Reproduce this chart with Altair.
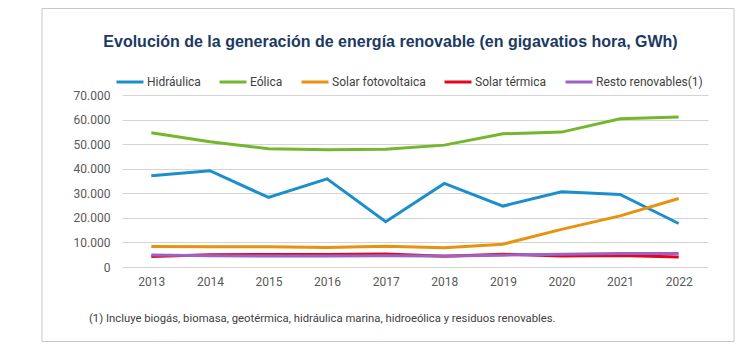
import altair as alt
import pandas as pd

years = ["2013", "2014", "2015", "2016", "2017", "2018", "2019", "2020", "2021", "2022"]
series_names = ["Hidráulica", "Eólica", "Solar fotovoltaica", "Solar térmica", "Resto renovables(1)"]
hidraulica = [37100, 39200, 28300, 35900, 18400, 34000, 24800, 30600, 29500, 17700]
eolica = [54600, 51000, 48100, 47700, 47900, 49600, 54200, 54900, 60300, 61000]
solar_fv = [8300, 8200, 8200, 7900, 8400, 7800, 9300, 15300, 20800, 27900]
solar_termica = [4300, 5000, 5100, 5100, 5300, 4400, 5200, 4500, 4700, 4100]
resto = [4900, 4600, 4500, 4500, 4600, 4500, 4800, 5200, 5500, 5500]
colors = ["#1a8fcb", "#74b72d", "#e8920f", "#e3051b", "#9d62c3"]
y_ticks = [0, 10000, 20000, 30000, 40000, 50000, 60000, 70000]

title_text = "Evolución de la generación de energía renovable (en gigavatios hora, GWh)"
note_text = "(1) Incluye biogás, biomasa, geotérmica, hidráulica marina, hidroeólica y residuos renovables."

rows = []
for name, vals in zip(series_names, [hidraulica, eolica, solar_fv, solar_termica, resto]):
    for i, (yr, v) in enumerate(zip(years, vals)):
        rows.append({"year": yr, "serie": name, "value": v, "order": series_names.index(name)})
df = pd.DataFrame(rows)

W, H = 586, 172

border = alt.Chart(pd.DataFrame({"a": [0]})).mark_rect(
    fill="transparent", stroke="#c8c8c8", strokeWidth=1
).encode(
    x=alt.value(-80), x2=alt.value(612), y=alt.value(-86.5), y2=alt.value(246.5)
)

lines = alt.Chart(df).mark_line(strokeWidth=3).encode(
    x=alt.X("year:O", scale=alt.Scale(type="point", padding=0.5),
            axis=alt.Axis(title=None, domain=False, ticks=False, grid=False,
                          labelAngle=0, labelPadding=9, labelFont="Roboto",
                          labelFontSize=12, labelColor="#595959")),
    y=alt.Y("value:Q", scale=alt.Scale(domain=[0, 70000]),
            axis=alt.Axis(title=None, domain=False, ticks=False, values=y_ticks,
                          labelPadding=12, labelFont="Roboto", labelFontSize=12,
                          labelColor="#595959", gridColor="#d4d4d4", gridWidth=1.2,
                          labelExpr="replace(format(datum.value, ','), /,/g, '.')")),
    color=alt.Color("serie:N", sort=series_names,
                    scale=alt.Scale(domain=series_names, range=colors),
                    legend=alt.Legend(title=None, orient="none", direction="horizontal",
                                      legendX=-7, legendY=-28, symbolType="stroke",
                                      symbolSize=729, symbolStrokeWidth=3,
                                      labelFont="Roboto", labelFontSize=12,
                                      labelColor="#404040", labelOffset=2,
                                      columnPadding=12, padding=0)),
    order="order:Q",
)

title = alt.Chart(pd.DataFrame({"t": [title_text]})).mark_text(
    font="Liberation Sans", fontSize=16, fontWeight="bold", color="#1b3a63",
    align="center", baseline="middle"
).encode(x=alt.value(268.5), y=alt.value(-53), text="t:N")

note = alt.Chart(pd.DataFrame({"t": [note_text]})).mark_text(
    font="Roboto", fontSize=11.3, color="#404040", align="left", baseline="middle"
).encode(x=alt.value(-33), y=alt.value(224), text="t:N")

chart = alt.layer(border, lines, title, note).properties(
    width=W, height=H,
    autosize=alt.AutoSizeParams(type="none"),
    padding={"left": 122, "top": 95, "right": 34, "bottom": 85},
).configure_view(stroke=None)

chart.save("out.html", embed_options={"renderer": "svg", "actions": False})
